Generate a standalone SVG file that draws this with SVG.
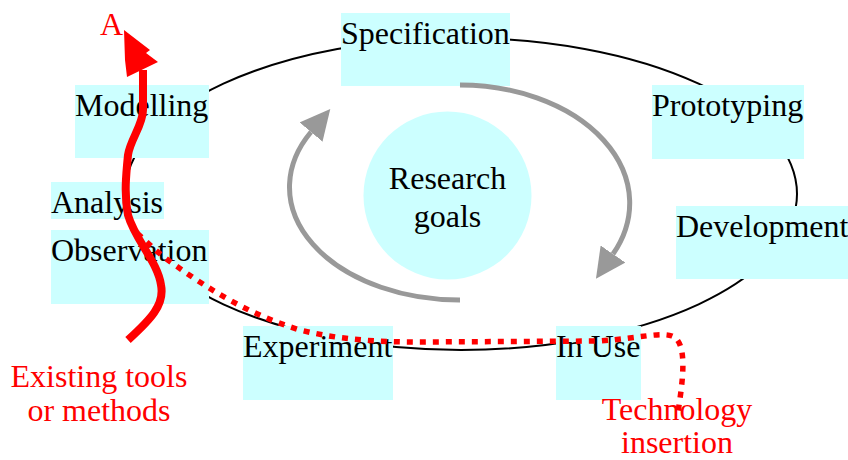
<svg xmlns="http://www.w3.org/2000/svg" width="848" height="460" viewBox="0 0 848 460">
<style>
.box{fill:#CCFFFF}
.lbl{font-family:"Liberation Serif","Times New Roman",serif;font-size:32px;fill:#000}
.red{font-family:"Liberation Serif","Times New Roman",serif;font-size:32px;fill:#FF0000}
.cycle{fill:none;stroke:#000;stroke-width:2}
.gray{fill:none;stroke:#999999;stroke-width:5}
</style>
<defs>
<marker id="grayHead" markerUnits="userSpaceOnUse" markerWidth="30" markerHeight="30" viewBox="0 0 30 30" refX="0" refY="15" orient="auto">
<path d="M0,0 L30,15 L0,30 z" fill="#999999"/>
</marker>
</defs>
<rect width="848" height="460" fill="#fff"/>
<ellipse class="cycle" cx="461" cy="194" rx="336" ry="156"/>
<g id="specification"><rect class="box" x="341" y="13" width="169" height="73"/><text class="lbl" x="341" y="44">Specification</text></g>
<g id="modelling"><rect class="box" x="75" y="85" width="134" height="73"/><text class="lbl" x="75" y="116">Modelling</text></g>
<g id="prototyping"><rect class="box" x="652" y="85" width="152" height="74"/><text class="lbl" x="652" y="116">Prototyping</text></g>
<g id="development"><rect class="box" x="676" y="206" width="172" height="73"/><text class="lbl" x="676" y="237">Development</text></g>
<g id="analysis"><rect class="box" x="51" y="182" width="113" height="37"/><text class="lbl" x="51" y="213">Analysis</text></g>
<g id="observation"><rect class="box" x="51" y="230" width="158" height="74"/><text class="lbl" x="51" y="261">Observation</text></g>
<g id="experiment"><rect class="box" x="243" y="326" width="150" height="74"/><text class="lbl" x="243" y="357">Experiment</text></g>
<g id="inuse"><rect class="box" x="556" y="326" width="85" height="74"/><text class="lbl" x="556" y="357">In Use</text></g>
<g id="goals"><circle cx="447.5" cy="195.5" r="84" fill="#CCFFFF"/><text class="lbl" x="447.5" y="189" text-anchor="middle">Research</text><text class="lbl" x="447.5" y="227" text-anchor="middle">goals</text></g>
<g id="connectors">
<path class="gray" d="M460,85 A170,118 0 0 1 613,254" marker-end="url(#grayHead)"/>
<path class="gray" d="M460,300 A170,113 0 0 1 311,132" marker-end="url(#grayHead)"/>
<path d="M137,233 C150,245 160,255 175,265 C210,290 250,315 300,330 C340,340 380,342 420,342 L600,341 C640,338 660,332 672,336 C688,342 683,380 678,412" fill="none" stroke="#FF0000" stroke-width="5.5" stroke-dasharray="6,7"/>
<path d="M128,340 C150,320 165,305 161,285 C158,262 135,240 128,215 C124,195 126,175 128,155 C130,140 143,125 143,110 L143,70" fill="none" stroke="#FF0000" stroke-width="8"/>
<polygon points="124,30 150,50 146,53 158,62 127,77 125,60" fill="#FF0000"/>
</g>
<g id="labels">
<text class="red" x="100" y="35">A</text>
<text class="red" x="99" y="387" text-anchor="middle">Existing tools</text>
<text class="red" x="99" y="421" text-anchor="middle">or methods</text>
<text class="red" x="677" y="420" text-anchor="middle">Technology</text>
<text class="red" x="677" y="453" text-anchor="middle">insertion</text>
</g>
</svg>
